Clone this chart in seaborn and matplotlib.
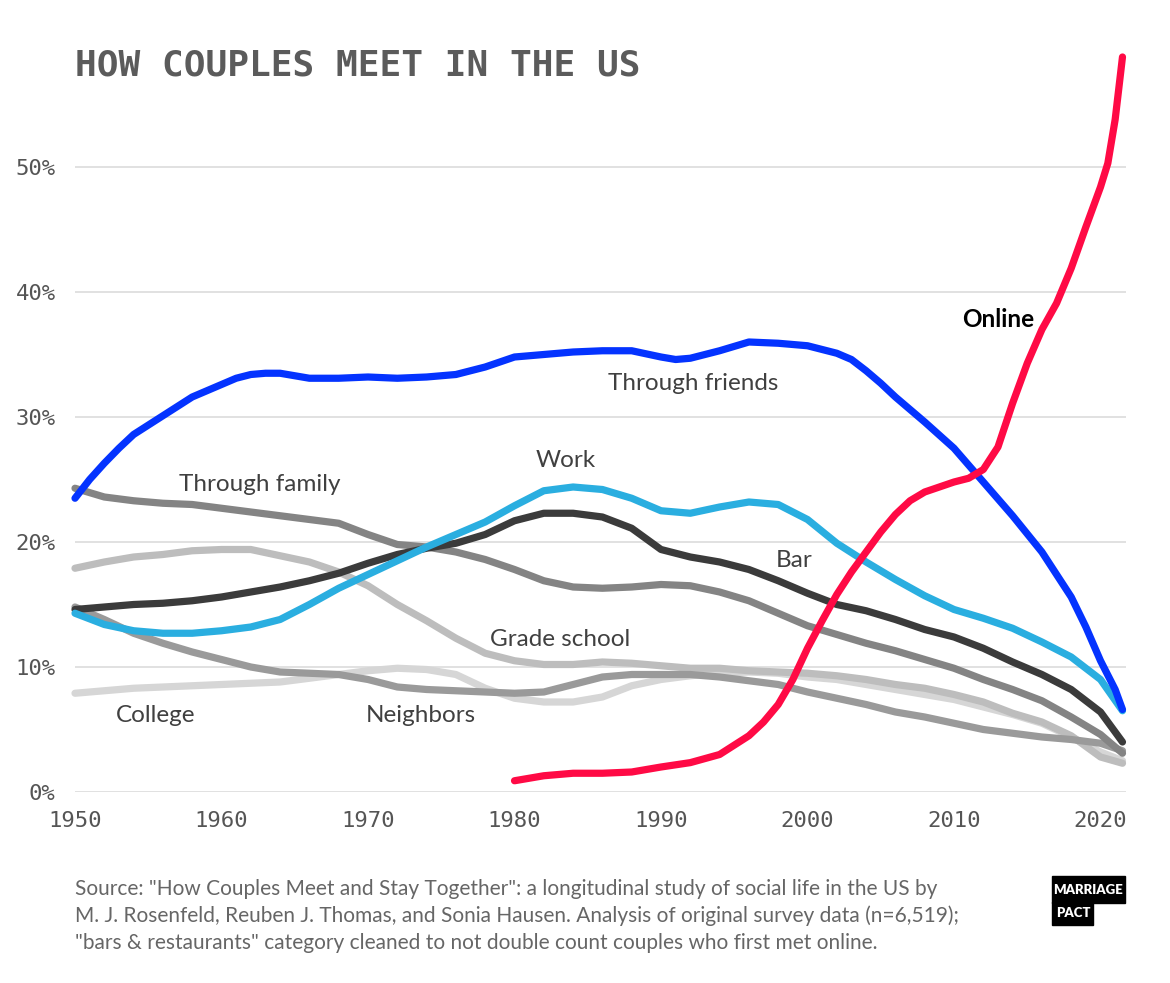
import pandas as pd
import seaborn as sns
import matplotlib.pyplot as plt
from matplotlib.patches import Rectangle

# Values (share of couples, %)
years = [1950, 1952, 1954, 1956, 1958, 1960, 1962, 1964, 1966, 1968,
         1970, 1972, 1974, 1976, 1978, 1980, 1982, 1984, 1986, 1988,
         1990, 1992, 1994, 1996, 1998, 2000, 2002, 2004, 2006, 2008,
         2010, 2012, 2014, 2016, 2018, 2020, 2021.5]

work = [14.3, 13.4, 12.9, 12.7, 12.7, 12.9, 13.2, 13.8, 15.0, 16.3,
        17.4, 18.5, 19.6, 20.6, 21.6, 22.9, 24.1, 24.4, 24.2, 23.5,
        22.5, 22.3, 22.8, 23.2, 23.0, 21.8, 19.9, 18.4, 17.0, 15.7,
        14.6, 13.9, 13.1, 12.0, 10.8, 9.0, 6.5]

bar = [14.6, 14.8, 15.0, 15.1, 15.3, 15.6, 16.0, 16.4, 16.9, 17.5,
       18.3, 19.0, 19.5, 19.9, 20.6, 21.7, 22.3, 22.3, 22.0, 21.1,
       19.4, 18.8, 18.4, 17.8, 16.9, 15.9, 15.0, 14.5, 13.8, 13.0,
       12.4, 11.5, 10.4, 9.4, 8.2, 6.4, 4.0]

family = [24.3, 23.6, 23.3, 23.1, 23.0, 22.7, 22.4, 22.1, 21.8, 21.5,
          20.6, 19.8, 19.6, 19.2, 18.6, 17.8, 16.9, 16.4, 16.3, 16.4,
          16.6, 16.5, 16.0, 15.3, 14.3, 13.3, 12.6, 11.9, 11.3, 10.6,
          9.9, 9.0, 8.2, 7.3, 6.0, 4.6, 3.1]

grade_school = [17.9, 18.4, 18.8, 19.0, 19.3, 19.4, 19.4, 18.9, 18.4, 17.6,
                16.5, 15.0, 13.7, 12.3, 11.1, 10.5, 10.2, 10.2, 10.4, 10.3,
                10.1, 9.9, 9.9, 9.7, 9.6, 9.5, 9.3, 9.0, 8.6, 8.3,
                7.8, 7.2, 6.3, 5.6, 4.5, 2.8, 2.3]

college = [7.9, 8.1, 8.3, 8.4, 8.5, 8.6, 8.7, 8.8, 9.1, 9.4,
           9.7, 9.9, 9.8, 9.4, 8.3, 7.5, 7.2, 7.2, 7.6, 8.5,
           9.0, 9.3, 9.5, 9.6, 9.5, 9.2, 9.0, 8.6, 8.2, 7.8,
           7.4, 6.8, 6.2, 5.5, 4.4, 3.2, 2.5]

neighbors = [14.8, 13.8, 12.7, 11.9, 11.2, 10.6, 10.0, 9.6, 9.5, 9.4,
             9.0, 8.4, 8.2, 8.1, 8.0, 7.9, 8.0, 8.6, 9.2, 9.4,
             9.4, 9.4, 9.2, 8.9, 8.6, 8.0, 7.5, 7.0, 6.4, 6.0,
             5.5, 5.0, 4.7, 4.4, 4.2, 3.9, 3.3]

friends_years = [1950, 1951, 1952, 1953, 1954, 1956, 1958, 1960, 1961, 1962,
                 1963, 1964, 1966, 1968, 1970, 1972, 1974, 1976, 1978, 1980,
                 1982, 1984, 1986, 1988, 1990, 1991, 1992, 1994, 1996, 1998,
                 2000, 2002, 2003, 2004, 2005, 2006, 2008, 2010, 2012, 2014,
                 2016, 2018, 2019, 2020, 2021, 2021.5]
friends = [23.5, 25.0, 26.3, 27.5, 28.6, 30.1, 31.6, 32.6, 33.1, 33.4,
           33.5, 33.5, 33.1, 33.1, 33.2, 33.1, 33.2, 33.4, 34.0, 34.8,
           35.0, 35.2, 35.3, 35.3, 34.8, 34.6, 34.7, 35.3, 36.0, 35.9,
           35.7, 35.1, 34.6, 33.7, 32.7, 31.6, 29.6, 27.5, 24.8, 22.1,
           19.2, 15.6, 13.2, 10.5, 8.2, 6.6]

online_years = [1980, 1982, 1984, 1986, 1988, 1990, 1992, 1994, 1996, 1997,
                1998, 1999, 2000, 2001, 2002, 2003, 2004, 2005, 2006, 2007,
                2008, 2009, 2010, 2011, 2012, 2013, 2014, 2015, 2016, 2017,
                2018, 2019, 2020, 2020.5, 2021, 2021.5]
online = [0.9, 1.3, 1.5, 1.5, 1.6, 2.0, 2.35, 3.0, 4.5, 5.6,
          7.0, 9.0, 11.5, 13.7, 15.8, 17.6, 19.2, 20.8, 22.2, 23.3,
          24.0, 24.4, 24.8, 25.1, 25.8, 27.6, 31.1, 34.3, 37.0, 39.1,
          41.9, 45.2, 48.4, 50.3, 53.8, 58.8]

series = {
    "College": (years, college),
    "Grade school": (years, grade_school),
    "Neighbors": (years, neighbors),
    "Through family": (years, family),
    "Bar": (years, bar),
    "Work": (years, work),
    "Through friends": (friends_years, friends),
    "Online": (online_years, online),
}
colors = {
    "College": "#d6d6d6",
    "Grade school": "#bdbdbd",
    "Neighbors": "#9a9a9a",
    "Through family": "#848484",
    "Bar": "#3b3b3b",
    "Work": "#2aaee0",
    "Through friends": "#0433ff",
    "Online": "#ff0a45",
}

rows = []
for name, (xs, ys) in series.items():
    for x, y in zip(xs, ys):
        rows.append({"year": x, "share": y, "how": name})
df = pd.DataFrame(rows)

sns.set_style("white")
label_font = ["Liberation Sans Narrow", "Lato", "DejaVu Sans"]
mono_font = ["DejaVu Sans Mono"]

fig = plt.figure(figsize=(11.7, 9.83), dpi=100)
ax = fig.add_axes([75 / 1170, 191 / 983, 1051 / 1170, 750 / 983])

sns.lineplot(data=df, x="year", y="share", hue="how", hue_order=list(series),
             palette=colors, estimator=None, linewidth=5.2, legend=False,
             solid_capstyle="round", solid_joinstyle="round", ax=ax,
             clip_on=False)

ax.set_xlim(1950, 2021.74)
ax.set_ylim(0, 60)
ax.set_xticks(range(1950, 2021, 10))
ax.set_yticks(range(0, 51, 10))
ax.set_yticklabels([f"{v}%" for v in range(0, 51, 10)])
ax.tick_params(length=0, labelsize=16, labelcolor="#555555", pad=14)
for lbl in ax.get_xticklabels() + ax.get_yticklabels():
    lbl.set_fontfamily(mono_font)
ax.set_xlabel("")
ax.set_ylabel("")
ax.yaxis.grid(True, color="#dcdcdc", linewidth=1.2)
ax.xaxis.grid(False)
ax.set_axisbelow(True)
for s in ax.spines.values():
    s.set_visible(False)

# Direct labels
labels = [
    ("Through friends", 1992.2, 32.7, "normal", "#404040"),
    ("Online", 2013.0, 37.8, "bold", "#000000"),
    ("Work", 1983.5, 26.5, "normal", "#404040"),
    ("Through family", 1962.6, 24.6, "normal", "#404040"),
    ("Bar", 1999.1, 18.5, "normal", "#404040"),
    ("Grade school", 1983.1, 12.2, "normal", "#404040"),
    ("College", 1955.5, 6.1, "normal", "#404040"),
    ("Neighbors", 1973.6, 6.1, "normal", "#404040"),
]
for text, x, y, weight, col in labels:
    ax.text(x, y, text, ha="center", va="center", fontsize=17.5,
            fontweight=weight, color=col, family=label_font)

fig.text(75 / 1170, 1 - 75 / 983, "HOW COUPLES MEET IN THE US",
         fontsize=26, fontweight="bold", color="#5b5b5b", family=mono_font,
         ha="left", va="baseline")

footer = [
    'Source: "How Couples Meet and Stay Together": a longitudinal study of social life in the US by',
    'M. J. Rosenfeld, Reuben J. Thomas, and Sonia Hausen. Analysis of original survey data (n=6,519);',
    '"bars & restaurants" category cleaned to not double count couples who first met online.',
]
for i, line in enumerate(footer):
    fig.text(75 / 1170, 1 - (889 + 27 * i) / 983, line, fontsize=15,
             color="#666666", family=label_font, ha="left", va="center")

# Marriage Pact logo
fig.patches.append(Rectangle((1052 / 1170, 1 - 903 / 983), 73 / 1170, 27 / 983,
                             transform=fig.transFigure, color="black"))
fig.patches.append(Rectangle((1052 / 1170, 1 - 925 / 983), 41 / 1170, 23 / 983,
                             transform=fig.transFigure, color="black"))
fig.text(1088.5 / 1170, 1 - 890 / 983, "MARRIAGE", fontsize=9.5, fontweight="heavy",
         color="white", family=label_font, ha="center", va="center")
fig.text(1056 / 1170, 1 - 913 / 983, "PACT", fontsize=9.5, fontweight="heavy",
         color="white", family=label_font, ha="left", va="center")

fig.savefig("out.png", dpi=100)
